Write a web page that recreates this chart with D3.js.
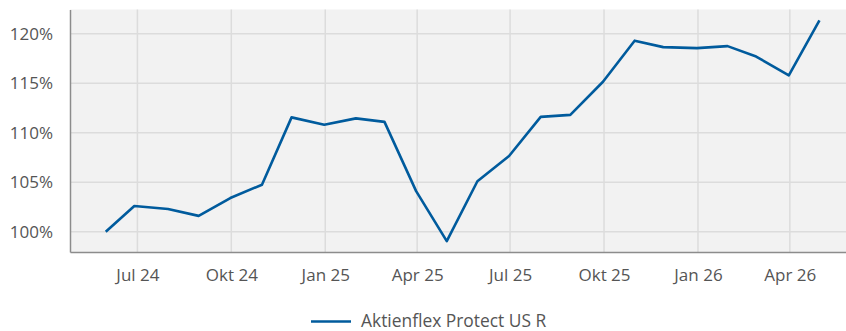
<!DOCTYPE html>
<html>
<head>
<meta charset="utf-8">
<script src="https://cdn.jsdelivr.net/npm/d3@7"></script>
<style>
  html, body { margin: 0; padding: 0; background: #fff; }
  svg { display: block; }
  text { font-family: "Open Sans", "Noto Sans", sans-serif; fill: #555; }
</style>
</head>
<body>
<svg id="chart" width="846" height="331"></svg>
<script>
// Month-end dates of the series
const dates = [
  "2024-05-31", "2024-06-28", "2024-07-31", "2024-08-30", "2024-09-30", "2024-10-31",
  "2024-11-29", "2024-12-31", "2025-01-31", "2025-02-28", "2025-03-31", "2025-04-30",
  "2025-05-30", "2025-06-30", "2025-07-31", "2025-08-29", "2025-09-30", "2025-10-31",
  "2025-11-28", "2025-12-31", "2026-01-30", "2026-02-27", "2026-03-31", "2026-04-30"
];
// Indexed performance in percent
const values = [
  100.0, 102.6, 102.3, 101.6, 103.4, 104.75,
  111.55, 110.8, 111.45, 111.1, 104.1, 99.05,
  105.1, 107.65, 111.6, 111.8, 115.15, 119.3,
  118.65, 118.55, 118.75, 117.7, 115.8, 121.35
];
const yTicks = [100, 105, 110, 115, 120];
const xTickDates = ["2024-07-01", "2024-10-01", "2025-01-01", "2025-04-01",
                    "2025-07-01", "2025-10-01", "2026-01-01", "2026-04-01"];
const monthNames = ["Jan", "Feb", "Mär", "Apr", "Mai", "Jun", "Jul", "Aug", "Sep", "Okt", "Nov", "Dez"];
const seriesName = "Aktienflex Protect US R";

const parse = d3.utcParse("%Y-%m-%d");
const data = dates.map((d, i) => ({ date: parse(d), value: values[i] }));

const svg = d3.select("#chart");
const plotLeft = 70, plotRight = 846, plotTop = 9.5, plotBottom = 252;

const x = d3.scaleUtc()
  .domain([parse("2024-04-26"), parse("2026-05-26")])
  .range([plotLeft, plotRight]);
const y = d3.scaleLinear()
  .domain([97.95, 122.45])
  .range([plotBottom, plotTop]);

// Plot background
svg.append("rect")
  .attr("x", plotLeft).attr("y", plotTop)
  .attr("width", plotRight - plotLeft).attr("height", plotBottom - plotTop)
  .attr("fill", "#f2f2f2");

// Horizontal grid
svg.append("g")
  .selectAll("line").data(yTicks).join("line")
  .attr("x1", plotLeft).attr("x2", plotRight)
  .attr("y1", d => y(d)).attr("y2", d => y(d))
  .attr("stroke", "#dcdcdc").attr("stroke-width", 1.5);

// Vertical grid
const xt = xTickDates.map(parse);
svg.append("g")
  .selectAll("line").data(xt).join("line")
  .attr("x1", d => x(d)).attr("x2", d => x(d))
  .attr("y1", plotTop).attr("y2", plotBottom)
  .attr("stroke", "#dcdcdc").attr("stroke-width", 1.5);

// Axes
const fmt = d => monthNames[d.getUTCMonth()] + " " + String(d.getUTCFullYear()).slice(2);
const xAxis = svg.append("g")
  .attr("transform", `translate(0,${plotBottom})`)
  .call(d3.axisBottom(x).tickValues(xt).tickFormat(fmt).tickSize(0).tickPadding(17));
xAxis.select(".domain").attr("stroke", "#8c8c8c").attr("stroke-width", 1.5);
xAxis.selectAll("text").style("font-size", "17px").attr("fill", "#555");

const yAxis = svg.append("g")
  .attr("transform", `translate(${plotLeft},0)`)
  .call(d3.axisLeft(y).tickValues(yTicks).tickFormat(d => d + "%").tickSize(0).tickPadding(17));
yAxis.select(".domain").attr("stroke", "#8c8c8c").attr("stroke-width", 1.5);
yAxis.selectAll("text").style("font-size", "17px").attr("fill", "#555");

// Series line
svg.append("path")
  .datum(data)
  .attr("fill", "none")
  .attr("stroke", "#005b9d")
  .attr("stroke-width", 2.6)
  .attr("stroke-linejoin", "round")
  .attr("d", d3.line().x(d => x(d.date)).y(d => y(d.value)));

// Legend
const lg = svg.append("g").attr("transform", "translate(311,321.5)");
lg.append("line").attr("x1", 0).attr("x2", 40).attr("y1", 0).attr("y2", 0)
  .attr("stroke", "#005b9d").attr("stroke-width", 2.6);
lg.append("text").attr("x", 50).attr("y", 5)
  .style("font-size", "17.4px").attr("fill", "#555").text(seriesName);
</script>
</body>
</html>
